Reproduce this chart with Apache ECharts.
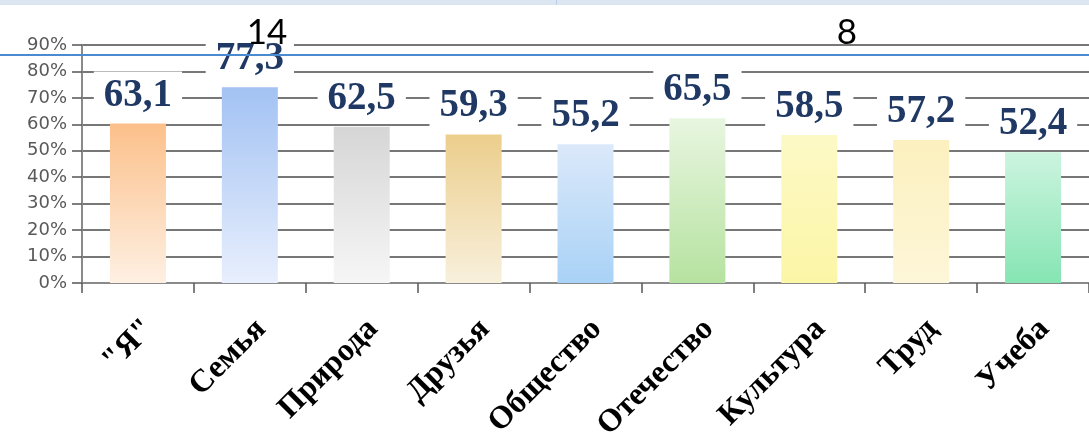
<!DOCTYPE html>
<html>
<head>
<meta charset="utf-8">
<script src="https://cdn.jsdelivr.net/npm/echarts@6/dist/echarts.min.js"></script>
<style>
  html, body { margin: 0; padding: 0; background: #fff; }
  #chart { width: 1089px; height: 448px; }
</style>
</head>
<body>
<div id="chart"></div>
<script>
// ---- data ----
const categories = ['"Я"', 'Семья', 'Природа', 'Друзья', 'Общество', 'Отечество', 'Культура', 'Труд', 'Учеба'];
// bar heights as drawn in the picture (percent)
const barValues = [60.3, 74.0, 59.1, 56.2, 52.5, 62.3, 56.0, 54.1, 49.4];
// value labels printed above the bars
const labelTexts = ['63,1', '77,3', '62,5', '59,3', '55,2', '65,5', '58,5', '57,2', '52,4'];
const yTickLabels = ['0%', '10%', '20%', '30%', '40%', '50%', '60%', '70%', '80%', '90%'];
const headerNumbers = ['14', '8'];

// ---- styles ----
const topColors = ['#fcc08a', '#a3c2f3', '#d6d6d6', '#ecce8c', '#dbe9fa', '#e8f6e0', '#fdf9c6', '#fcf0bf', '#ccf4df'];
const bottomColors = ['#fef0e3', '#e8effd', '#f6f6f6', '#f8f0dc', '#a9d2f6', '#b6e2a0', '#fbf6a6', '#fdf6d8', '#86e5b3'];

const chart = echarts.init(document.getElementById('chart'), null, { renderer: 'canvas' });

const seriesData = barValues.map((v, i) => ({
  value: v,
  itemStyle: {
    color: new echarts.graphic.LinearGradient(0, 0, 0, 1, [
      { offset: 0, color: topColors[i] },
      { offset: 1, color: bottomColors[i] }
    ])
  },
  label: { formatter: labelTexts[i] }
}));

chart.setOption({
  animation: false,
  backgroundColor: '#ffffff',
  grid: { left: 82, top: 45, width: 1021, height: 238, containLabel: false },
  xAxis: {
    type: 'category',
    data: categories,
    boundaryGap: true,
    axisLine: { show: true, lineStyle: { color: '#8a8a8a', width: 2 } },
    axisTick: { show: true, length: 10, alignWithLabel: false, lineStyle: { color: '#555', width: 1.5 } },
    axisLabel: {
      rotate: 45,
      interval: 0,
      margin: 30,
      align: 'right',
      verticalAlign: 'top',
      color: '#000',
      fontFamily: 'Liberation Serif',
      fontWeight: 'bold',
      fontSize: 32
    }
  },
  yAxis: {
    type: 'value',
    min: 0,
    max: 90,
    interval: 10,
    axisLine: { show: true, lineStyle: { color: '#8a8a8a', width: 2 } },
    axisTick: { show: true, length: 10, lineStyle: { color: '#555', width: 1.5 } },
    axisLabel: {
      margin: 15,
      color: '#595959',
      fontFamily: 'DejaVu Sans',
      fontSize: 18,
      formatter: (v) => yTickLabels[Math.round(v / 10)]
    },
    splitLine: { show: true, lineStyle: { color: '#4a4a4a', width: 1.5 } }
  },
  series: [{
    type: 'bar',
    data: seriesData,
    barWidth: 56,
    label: {
      show: true,
      position: 'top',
      distance: 4,
      color: '#1f3864',
      fontFamily: 'Liberation Serif',
      fontWeight: 'bold',
      fontSize: 39,
      lineHeight: 38,
      backgroundColor: '#ffffff',
      padding: [5, 10]
    }
  }],
  graphic: [
    { type: 'rect', left: 0, top: 0, z: 100, shape: { width: 1089, height: 5 }, style: { fill: '#dce6f2' } },
    { type: 'rect', left: 556, top: 0, z: 101, shape: { width: 1, height: 5 }, style: { fill: '#b9cde6' } },
    { type: 'line', z: 102, shape: { x1: 0, y1: 55, x2: 1089, y2: 55 }, style: { stroke: '#4a8ad0', lineWidth: 2 } },
    { type: 'text', z: 103, x: 267, y: 33, style: { text: headerNumbers[0], fill: '#000', font: '35px Lato', textAlign: 'center', textVerticalAlign: 'middle' } },
    { type: 'text', z: 103, x: 847, y: 33, style: { text: headerNumbers[1], fill: '#000', font: '35px Lato', textAlign: 'center', textVerticalAlign: 'middle' } }
  ]
});
</script>
</body>
</html>
